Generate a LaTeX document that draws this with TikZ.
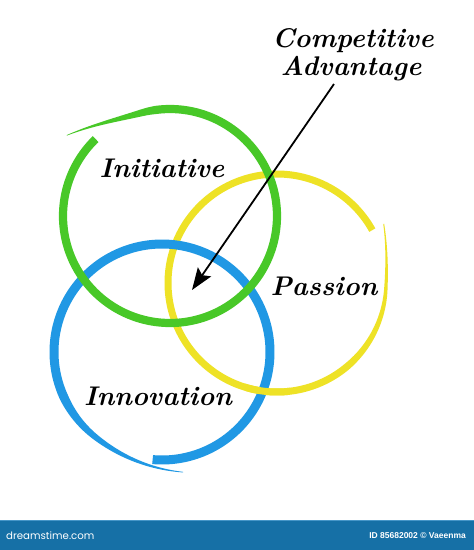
\documentclass[tikz,border=0pt]{standalone}
\usepackage{fontspec}
\newfontfamily\barfont{Poppins}
\newfontfamily\idfont{Liberation Sans}
\usetikzlibrary{arrows.meta}
\definecolor{ringgreen}{RGB}{72,200,40}
\definecolor{ringyellow}{RGB}{238,226,38}
\definecolor{ringblue}{RGB}{32,152,228}
\definecolor{barblue}{RGB}{22,112,166}
\definecolor{barline}{RGB}{70,150,200}
\newcommand\yellowring{%
  \fill[ringyellow] plot[domain=0:1,samples=260,variable=\s]
    ({277+(yRad(\s)+yWid(\s)/2)*cos(-29+360*\s)},{283+(yRad(\s)+yWid(\s)/2)*sin(-29+360*\s)})
    -- plot[domain=0:1,samples=260,variable=\s]
    ({277+(yRad(1-\s)-yWid(1-\s)/2)*cos(-29+360*(1-\s))},{283+(yRad(1-\s)-yWid(1-\s)/2)*sin(-29+360*(1-\s))})
    -- cycle;}
\begin{document}
\begin{tikzpicture}[x=1pt,y=-1pt,
  declare function={
    gRad(\x)=107+24*max(0,(\x-0.9)/0.1)^2;
    gWid(\x)=0.6+7.6*min(1,(1-\x)/0.12);
    yRad(\x)=109+13*max(0,1-\x/0.09)^2;
    yWid(\x)=1+6*min(1,\x/0.22);
    bRad(\x)=108+14*max(0,(\x-0.87)/0.13)^2;
    bWid(\x)=0.6+8.4*min(1,(1-\x)/0.2);
  },
  ringtext/.style={font=\fontsize{27}{32}\selectfont\bfseries\itshape, anchor=base, inner sep=0pt},
  titletext/.style={font=\fontsize{27}{32}\selectfont\bfseries\itshape, anchor=base, inner sep=0pt},
  arrowline/.style={line width=1.8pt, -{Stealth[length=22pt,width=16pt,inset=4pt]}},
]
\useasboundingbox (0,0) rectangle (474,550);
\fill[white] (0,0) rectangle (474,550);

% yellow ring (Passion)
\yellowring
% blue ring (Innovation)
\fill[ringblue] plot[domain=0:1,samples=260,variable=\s]
    ({162+(bRad(\s)+bWid(\s)/2)*cos(95-375*\s)},{352+(bRad(\s)+bWid(\s)/2)*sin(95-375*\s)})
    -- plot[domain=0:1,samples=260,variable=\s]
    ({162+(bRad(1-\s)-bWid(1-\s)/2)*cos(95-375*(1-\s))},{352+(bRad(1-\s)-bWid(1-\s)/2)*sin(95-375*(1-\s))})
    -- cycle;
% yellow over blue at the lower crossing
\begin{scope}
  \clip (245,372) rectangle (290,405);
  \yellowring
\end{scope}
% green ring (Initiative)
\fill[ringgreen] plot[domain=0:1,samples=260,variable=\s]
    ({170+(gRad(\s)+gWid(\s)/2)*cos(226-368*\s)},{216+(gRad(\s)+gWid(\s)/2)*sin(226-368*\s)})
    -- plot[domain=0:1,samples=260,variable=\s]
    ({170+(gRad(1-\s)-gWid(1-\s)/2)*cos(226-368*(1-\s))},{216+(gRad(1-\s)-gWid(1-\s)/2)*sin(226-368*(1-\s))})
    -- cycle;

% labels
\node[titletext] (comp) at (353,47) {Competitive};
\node[titletext] (adv) at (351,75) {Advantage};
\node[ringtext] (initiative) at (162,177) {Initiative};
\node[ringtext] (passion) at (324,295) {Passion};
\node[ringtext] (innovation) at (158,405) {Innovation};

% arrow
\coordinate (arrstart) at (334,84);
\coordinate (arrtip) at (192,290);
\draw[arrowline] (arrstart) -- (arrtip);

% bottom bar
\fill[barblue] (0,520) rectangle (474,550);
\fill[barline] (0,519.5) rectangle (474,521);
\node[anchor=west, text=white, inner sep=0pt, font=\barfont\fontsize{10.2}{12}\selectfont] (dt) at (6,536) {dreamstime.com};
\node[anchor=east, text=white, inner sep=0pt, font=\idfont\bfseries\fontsize{8.5}{10}\selectfont] (id) at (466,536) {ID 85682002 © Vaeenma};
\end{tikzpicture}
\end{document}
